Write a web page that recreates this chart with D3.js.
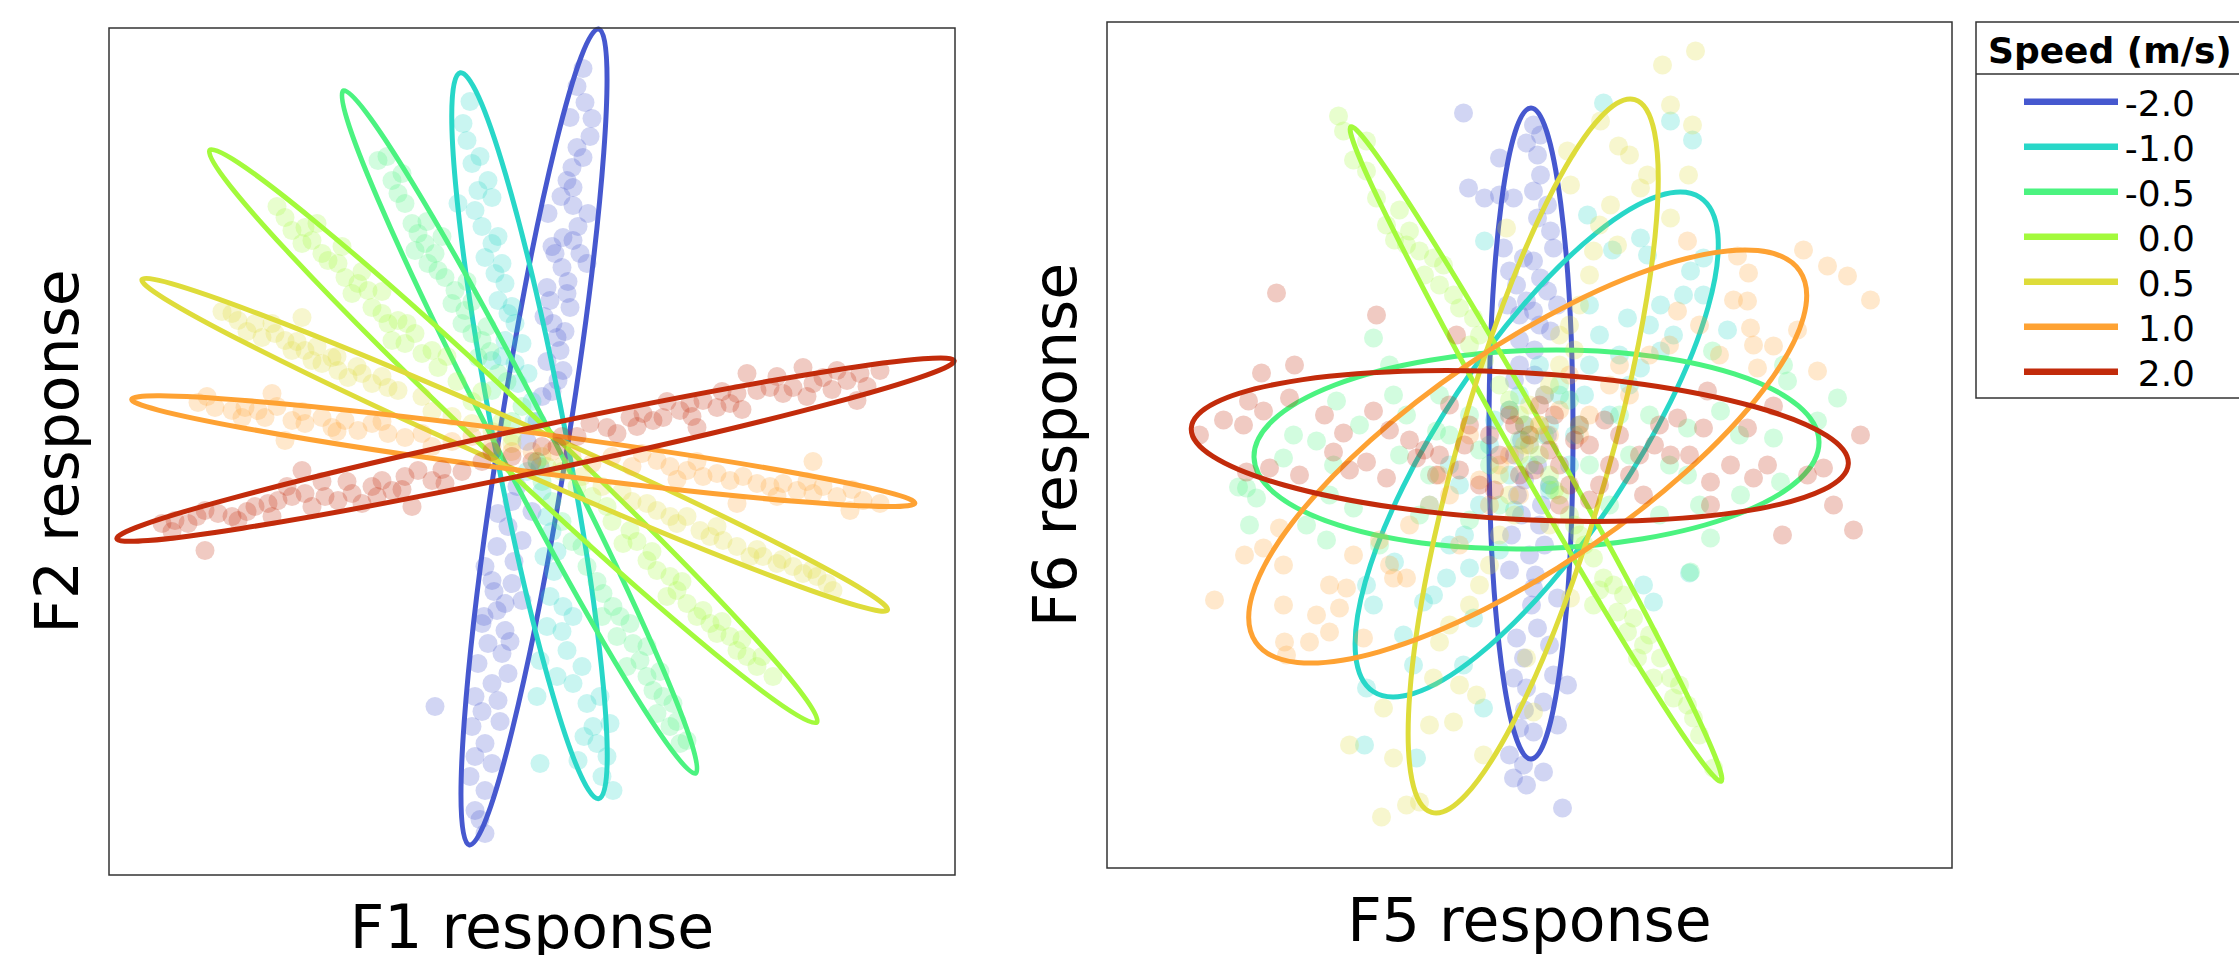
<!DOCTYPE html>
<html>
<head>
<meta charset="utf-8">
<script src="https://cdn.jsdelivr.net/npm/d3@7"></script>
<style>
  body { margin: 0; background: #fff; }
  svg text { font-family: "DejaVu Sans", sans-serif; fill: #000; }
</style>
</head>
<body>
<svg id="chart" width="2239" height="955"></svg>
<script>
// Speed categories and their colours (turbo-like)
const speeds = [-2.0, -1.0, -0.5, 0.0, 0.5, 1.0, 2.0];
const speedLabels = ['-2.0', '-1.0', '-0.5', '0.0', '0.5', '1.0', '2.0'];
const speedColors = ['#4658cf', '#28d7c8', '#4bf380', '#a3fa3c', '#dedc3a', '#fea233', '#c22b0b'];

// Ellipses per speed: [centreX, centreY, semiMajor, semiMinor, angleDeg]
const f1f2Ellipses = [
    [0.2, 1.45, 41.3, 3.45, 81.0],
    [-0.25, 1.58, 36.95, 3.6, 100.8],
    [-1.25, 1.95, 38.4, 2.7, 117.3],
    [-1.87, 1.53, 41.7, 2.85, 136.7],
    [-1.73, 0.67, 40.77, 2.25, 156.1],
    [-0.87, 0.03, 39.5, 1.95, 172.45],
    [0.35, 0.18, 42.8, 2.25, 12.0],
];
const f5f6Ellipses = [
    [0.15, 1.15, 32.55, 4.2, 90.0],
    [0.72, 0.05, 29.62, 9.48, 56.5],
    [0.7, -0.45, 28.26, 9.92, 1.6],
    [0.65, -0.9, 37.6, 1.95, 119.5],
    [0.37, -1.1, 37.06, 7.59, 74.1],
    [-0.18, -1.15, 32.93, 10.97, 34.3],
    [-0.97, -0.1, 32.9, 7.34, -3.1],
];

// Scatter samples per speed, F1 vs F2
const f1f2Points = [
    [[5.1,38.3],[5.3,34.9],[3.8,33.4],[6.0,33.3],[4.5,30.4],[5.1,29.4],[4.0,28.4],[3.5,27.1],[4.1,26.4],[1.6,23.8],[4.1,24.6],[5.6,23.8],[3.1,21.4],[4.1,21.1],[2.3,19.8],[4.8,19.8],[3.0,18.4],[5.5,18.8],[1.5,16.4],[3.5,15.8],[3.8,14.4],[1.8,15.1],[2.5,11.4],[2.8,10.1],[3.1,8.1],[2.6,7.1],[2.1,12.8],[1.0,5.5],[0.5,3.0],[-0.5,1.0],[0.8,-1.5],[-3.4,-6.2],[-2.4,-7.5],[-1.0,-8.9],[-4.7,-11.5],[-4.0,-12.9],[-2.0,-13.2],[-2.7,-15.2],[-1.0,-14.9],[-5.0,-17.2],[-3.5,-15.9],[-2.7,-17.9],[-4.4,-19.2],[-3.0,-20.2],[-5.4,-21.2],[-4.0,-23.2],[-2.4,-22.2],[-5.7,-24.5],[-3.4,-24.9],[-6.0,-27.5],[-4.7,-29.2],[-4.0,-31.2],[-5.7,-30.5],[-4.7,-33.9],[-5.7,-35.9],[-4.7,-38.2],[-9.7,-25.5],
     [4.5,36.5],[5.8,31.5],[2.9,25.5],[4.6,22.5],[2.0,20.5],[3.6,17.0],[1.2,13.5],[3.3,12.0],[1.5,9.0],[2.0,6.0],[-1.5,-3.5],[-2.0,-5.0],[0.0,-6.0],[-3.5,-9.5],[-1.8,-11.0],[-3.8,-14.0],[-4.8,-16.5],[-2.2,-19.0],[-5.0,-26.0],[-3.2,-27.0],[-6.2,-32.5],[-5.2,-36.8]],
    [[-6.9,32.8],[-6.5,31.1],[-6.0,28.8],[-7.4,24.8],[-5.4,26.1],[-4.4,27.1],[-5.7,24.1],[-4.0,25.4],[-4.0,20.8],[-4.7,19.4],[-3.0,18.8],[-3.7,17.8],[-2.7,16.8],[-3.4,15.1],[-2.4,13.8],[-1.7,12.8],[-2.7,11.1],[-1.0,10.8],[-1.7,8.8],[-4.0,9.1],[-0.4,7.8],[-1.4,6.8],[0.2,3.0],[1.0,-4.0],[-0.5,-2.0],[2.0,-8.0],[1.2,-10.5],[1.8,-14.5],[3.1,-15.5],[4.1,-16.5],[0.8,-20.9],[3.5,-19.9],[4.1,-23.2],[0.5,-24.5],[5.5,-25.2],[6.1,-27.5],[7.8,-27.2],[6.5,-29.2],[4.6,-30.9],[0.8,-31.2],[7.5,-30.5],[8.1,-33.9],
     [-6.2,35.0],[-5.2,29.5],[-5.0,22.5],[-3.4,21.5],[-2.0,14.5],[-3.0,9.5],[0.0,5.0],[0.5,-1.0],[1.5,-6.5],[2.5,-10.0],[2.2,-12.0],[3.0,-18.0],[1.5,-17.5],[5.0,-21.5],[2.5,-22.5],[6.8,-24.5],[5.2,-28.5],[7.0,-32.5]],
    [[-15.4,29.1],[-14.0,27.1],[-13.4,25.8],[-12.7,24.8],[-12.0,22.8],[-11.4,21.8],[-10.7,20.8],[-11.7,20.1],[-9.7,19.8],[-10.4,18.8],[-9.4,18.1],[-8.7,17.4],[-7.7,16.1],[-8.0,14.8],[-6.7,14.1],[-7.0,12.8],[-6.0,11.8],[-5.0,11.1],[-5.4,9.4],[-3.4,7.8],[-4.0,6.1],[-2.0,3.0],[2.0,-5.0],[4.0,-9.0],[5.5,-11.5],[7.1,-14.2],[8.1,-15.5],[8.8,-16.5],[9.8,-17.2],[8.5,-18.5],[10.1,-19.2],[10.8,-20.9],[9.5,-21.5],[11.5,-22.5],[12.1,-23.9],[13.1,-24.5],[12.5,-26.2],[14.1,-25.2],[13.8,-27.5],[14.8,-29.2],[15.5,-28.9],
     [-14.5,29.5],[-13.0,27.8],[-10.5,23.0],[-9.0,21.5],[-6.5,17.0],[-6.0,15.0],[-4.5,12.5],[-4.2,10.0],[-2.5,7.0],[-1.0,4.5],[0.5,-1.0],[1.0,-3.0],[3.0,-7.0],[5.0,-9.5],[6.5,-13.0],[7.0,-16.5],[11.5,-19.5],[12.8,-22.0],[14.5,-27.0]],
    [[-24.7,23.4],[-24.0,22.1],[-22.7,22.4],[-23.0,20.8],[-22.0,21.1],[-21.0,19.8],[-20.4,19.1],[-19.4,18.8],[-18.7,17.4],[-17.4,16.8],[-18.0,15.8],[-16.4,16.1],[-16.0,14.4],[-15.0,13.8],[-14.4,12.8],[-13.4,13.1],[-14.0,11.1],[-12.7,10.8],[-11.7,11.8],[-11.0,9.8],[-10.0,10.1],[-9.4,8.4],[-6.0,5.0],[-3.0,3.0],[3.0,-2.0],[6.0,-4.5],[9.8,-7.9],[9.1,-9.2],[11.5,-10.9],[12.5,-11.9],[13.8,-12.5],[13.5,-14.5],[14.5,-13.9],[15.5,-15.2],[16.5,-16.5],[17.1,-15.9],[17.8,-17.2],[18.5,-18.2],[19.8,-18.5],[20.5,-19.9],[21.5,-20.5],[22.5,-21.5],[24.1,-22.5],
     [-25.5,24.5],[-21.5,22.8],[-19.0,20.5],[-17.0,18.0],[-15.0,16.0],[-12.5,12.8],[-8.5,9.5],[-7.5,7.0],[-5.0,6.0],[-2.0,1.5],[1.5,-1.5],[4.5,-3.5],[7.5,-5.5],[8.0,-7.0],[10.5,-9.0],[12.0,-10.0],[15.0,-13.0],[19.0,-17.0],[21.0,-18.8],[23.0,-20.5]],
    [[-30.0,13.8],[-29.4,13.1],[-27.7,12.8],[-27.0,11.4],[-25.7,11.8],[-24.7,11.1],[-24.0,10.1],[-22.7,10.1],[-23.0,13.4],[-22.0,9.1],[-21.0,8.8],[-20.0,9.4],[-19.4,8.1],[-18.4,7.4],[-17.0,7.8],[-16.0,6.8],[-14.4,6.4],[-13.4,6.1],[-8.0,3.5],[-4.0,2.0],[3.0,-1.5],[7.0,-3.5],[11.5,-5.2],[12.5,-5.9],[13.8,-6.5],[14.5,-7.2],[16.8,-7.9],[17.8,-8.5],[19.1,-8.9],[20.5,-9.5],[21.8,-10.5],[23.1,-10.5],[24.5,-11.2],[26.1,-11.5],[27.1,-12.2],[28.5,-12.5],[29.5,-13.2],[30.1,-13.9],
     [-31.0,14.0],[-28.5,12.0],[-26.0,12.8],[-23.5,11.0],[-21.5,10.5],[-19.5,9.5],[-17.5,8.5],[-15.0,7.5],[-11.0,5.5],[-10.0,4.0],[-6.0,2.8],[-2.0,0.8],[1.0,-0.5],[5.0,-2.5],[9.0,-4.0],[10.0,-5.0],[15.5,-6.5],[18.5,-7.5],[22.5,-9.8],[25.0,-10.8],[28.0,-11.8]],
    [[-33.4,4.9],[-31.7,4.4],[-30.0,4.1],[-28.7,4.4],[-27.4,4.1],[-26.7,3.4],[-24.0,3.1],[-22.7,2.8],[-21.0,3.4],[-20.0,2.4],[-18.7,3.1],[-17.4,2.1],[-16.0,2.8],[-14.4,1.8],[-12.7,1.4],[-26.0,5.8],[-24.7,1.1],[-8.0,1.0],[-4.0,0.5],[0.0,0.0],[4.0,-0.5],[8.0,-0.5],[12.5,-0.9],[13.8,-1.5],[15.5,-1.9],[17.1,-2.5],[18.5,-2.2],[19.8,-2.9],[21.1,-2.5],[22.5,-3.2],[23.8,-3.5],[25.1,-3.2],[26.5,-3.9],[28.1,-4.2],[29.1,-3.5],[31.8,-5.9],[33.1,-4.9],[34.8,-5.2],[28.1,-1.0],[20.5,-5.2],
     [-32.5,5.5],[-29.0,3.4],[-25.5,4.5],[-23.0,4.0],[-19.5,2.0],[-15.0,3.0],[-11.0,1.8],[-10.0,0.5],[-6.0,1.5],[-2.0,0.0],[2.0,0.0],[6.0,-1.2],[10.0,-1.5],[11.0,-0.2],[14.5,-2.8],[16.5,-1.0],[24.5,-4.5],[27.5,-3.0],[30.5,-4.5],[32.0,-3.8]],
    [[5.8,2.8],[7.5,2.4],[9.8,3.4],[11.1,3.8],[12.1,3.1],[13.1,3.4],[14.8,4.1],[15.8,4.8],[17.1,5.1],[18.5,4.4],[19.8,4.8],[20.5,5.8],[21.5,7.8],[22.5,6.1],[23.8,6.4],[25.1,5.8],[26.1,6.4],[27.1,8.4],[28.1,6.8],[29.1,7.4],[30.5,8.1],[31.5,7.1],[32.5,5.1],[32.8,7.8],[34.8,8.1],[16.5,2.4],[-37.0,-7.2],[-35.7,-6.9],[-34.4,-7.2],[-32.7,-5.9],[-31.4,-6.2],[-30.0,-6.5],[-29.4,-6.9],[-27.7,-5.5],[-26.4,-5.2],[-25.4,-4.9],[-24.0,-4.5],[-22.7,-4.2],[-22.0,-5.5],[-20.7,-4.5],[-19.4,-4.9],[-18.0,-4.2],[-17.0,-5.2],[-16.0,-3.5],[-15.0,-2.9],[-14.0,-3.9],[-12.7,-2.5],[-11.4,-1.9],[-10.0,-2.9],[-8.7,-3.2],[-12.0,-5.5],[-32.7,-9.9],[-23.0,-1.9],[-5.0,-1.0],[-2.0,-0.5],[1.0,0.5],[3.0,1.5],
     [-36.0,-8.0],[-33.5,-6.5],[-28.5,-6.0],[-26.0,-6.5],[-24.5,-3.5],[-21.0,-3.0],[-18.5,-3.0],[-15.5,-4.5],[-13.0,-3.8],[-9.0,-1.8],[-7.0,-2.0],[-4.0,0.0],[0.0,-1.0],[2.5,0.5],[4.5,1.5],[8.5,1.8],[10.5,2.5],[13.5,5.0],[16.0,3.5],[19.0,6.0],[21.0,4.2],[24.5,7.5],[27.5,5.5],[30.0,6.2],[33.5,6.5]],
];

// Scatter samples per speed, F5 vs F6
const f5f6Points = [
    [[-6.6,33.2],[-3.0,28.7],[-0.3,30.2],[-6.1,25.7],[-4.5,24.7],[-3.0,25.0],[-1.6,24.7],[-2.6,19.7],[-2.0,17.4],[-0.6,18.7],[-1.3,16.0],[-0.3,14.4],[-1.0,13.0],[0.4,32.0],[1.1,31.0],[0.8,29.0],[1.1,27.0],[0.4,25.4],[1.8,24.0],[0.8,22.7],[2.1,21.4],[2.4,19.7],[0.4,18.4],[1.1,16.7],[1.8,15.4],[2.8,14.0],[0.4,13.4],[2.1,11.4],[-1.0,8.0],[1.5,5.0],[-0.5,2.0],[0.8,-2.0],[-1.2,-5.0],[1.0,-8.0],[0.0,-11.0],[-0.8,0.5],[-1.3,-19.3],[-0.6,-21.3],[-1.6,-23.3],[-0.3,-24.3],[-1.0,-28.3],[-2.0,-31.0],[-0.6,-32.0],[-1.6,-33.3],[-0.3,-34.0],[0.4,-14.3],[2.8,-15.3],[0.8,-18.3],[2.4,-23.0],[3.8,-24.0],[1.4,-25.7],[2.8,-28.0],[0.4,-28.7],[1.4,-32.7],[3.3,-36.3],[-1.5,6.5],[0.5,9.5],[-2.0,3.5],[1.8,1.0],[-0.5,-3.5],[1.2,-6.0],[-1.8,-9.0],[0.6,-13.0],
     [-1.0,10.5],[1.0,12.0],[-2.2,14.0],[0.5,7.0],[-1.5,-1.0],[2.0,-4.0],[-0.8,-7.0],[1.5,-10.0],[-2.0,-12.5],[0.2,-16.0],[2.0,-20.0],[-0.5,-26.5]],
    [[7.4,34.2],[14.1,32.4],[16.3,30.5],[5.8,23.0],[11.1,20.7],[11.8,19.0],[16.1,17.4],[17.4,18.7],[15.4,15.0],[17.4,15.0],[13.1,14.0],[19.8,11.5],[9.8,12.7],[14.4,11.0],[13.1,9.4],[11.1,7.7],[-4.5,20.4],[8.3,19.5],[16.0,-12.8],[-13.5,-11.7],[-9.6,-15.0],[-10.6,-15.7],[-8.3,-13.3],[-6.0,-12.3],[-15.6,-16.0],[-16.3,-14.0],[-12.6,-19.0],[-11.6,-22.0],[-6.6,-22.0],[-16.3,-24.3],[-4.6,-26.3],[-16.5,-30.0],[-11.3,-31.3],[-5.6,-17.3],[11.4,-14.0],[12.4,-15.7],[3.0,5.0],[-2.0,-3.0],[6.0,8.0],[-5.0,-6.0],[0.0,0.0],[8.0,3.0],[-8.0,-2.0],[-3.5,2.5],[4.5,1.0],[-1.0,5.0],[2.0,-4.5],[-6.5,-9.0],[7.0,11.0],[-10.0,-6.0],[10.0,6.0],
     [2.0,2.0],[-1.5,-6.5],[4.0,-2.0],[-4.0,0.0],[1.0,8.0],[5.5,5.0],[-7.0,-4.0],[9.0,9.0],[-3.0,-10.5],[12.0,12.0],[-8.0,-10.0],[6.0,14.0]],
    [[-15.6,10.7],[-14.0,8.0],[-13.6,5.0],[-19.3,4.4],[-23.6,1.0],[-21.3,0.4],[-12.3,3.0],[-9.3,1.4],[-28.3,-4.3],[-27.3,-5.3],[-28.0,-8.0],[-24.6,-1.3],[-22.3,-8.0],[-20.3,-9.5],[-19.6,-2.0],[-17.6,-6.3],[18.3,9.4],[25.4,8.0],[25.8,6.4],[30.8,4.7],[28.8,2.4],[24.4,0.7],[19.1,3.4],[15.8,1.7],[15.8,-3.0],[18.1,-9.3],[16.1,-12.7],[25.1,-3.7],[21.1,-5.0],[-29.1,-4.2],[-6.0,3.0],[0.0,-2.0],[5.0,2.0],[-10.0,-3.0],[10.0,-1.0],[-3.0,-6.0],[3.0,6.0],[8.0,-6.0],[-8.0,1.0],[-4.0,-2.0],[-2.0,3.5],[2.0,-4.0],[6.0,-2.0],[12.0,3.0],[-13.0,-1.0],[-17.0,2.0],[13.0,-7.0],[-6.0,-7.5],
     [-1.0,0.5],[1.5,1.0],[-5.0,-0.5],[4.0,4.5],[-9.0,5.0],[9.0,3.0],[-11.0,-7.0],[14.0,-2.0],[-20.0,-5.0],[21.0,1.0],[-15.0,-10.0],[17.0,-6.0]],
    [[-19.1,32.9],[-18.6,31.4],[-17.6,28.5],[-16.3,30.4],[-16.3,27.4],[-15.3,24.7],[-14.3,22.0],[-13.0,23.5],[-12.0,21.4],[-12.3,20.0],[-11.0,19.4],[-9.6,18.7],[-8.6,18.0],[-9.0,16.0],[-7.6,15.0],[-7.0,13.7],[-5.6,12.7],[-3.0,6.0],[0.0,1.0],[2.0,-3.0],[4.0,-7.0],[-1.0,3.0],[1.0,-1.0],[6.4,-11.3],[7.4,-13.3],[8.4,-14.0],[9.4,-15.0],[6.4,-16.0],[8.8,-16.7],[10.4,-17.3],[9.8,-18.7],[11.4,-20.0],[10.8,-21.3],[13.1,-21.3],[12.4,-23.3],[14.1,-23.3],[14.4,-25.3],[15.8,-26.0],[16.4,-27.3],[18.4,-32.3],[-4.5,8.5],[-2.0,4.5],[3.0,-5.0],[5.0,-9.0],[-6.0,10.0],
     [-5.0,11.0],[-10.5,17.0],[-13.5,20.5],[-0.5,2.0],[2.5,-4.5],[4.5,-8.0],[5.5,-10.0],[7.0,-14.5],[12.0,-19.0],[15.0,-24.0],[17.0,-29.0]],
    [[16.6,39.4],[13.3,38.0],[14.1,34.0],[16.3,32.0],[8.9,29.9],[7.1,32.4],[3.8,29.4],[4.1,26.0],[15.9,27.0],[11.8,27.0],[11.1,25.7],[14.1,22.7],[8.1,24.0],[8.8,20.0],[6.4,19.4],[-2.3,21.7],[-9.0,-19.7],[-7.0,-24.0],[-5.3,-25.0],[-14.6,-26.3],[-7.6,-27.7],[-4.6,-31.0],[-13.6,-31.3],[-18.0,-30.0],[-12.3,-36.0],[-14.8,-37.2],[-11.0,-35.7],[-9.6,-23.3],[-0.3,-21.3],[0.4,-26.7],[4.1,-15.3],[3.0,8.0],[-2.0,-5.0],[1.0,2.0],[5.0,14.0],[-4.0,-12.0],[2.0,-8.0],[0.0,4.0],[-1.0,-1.0],[3.0,11.0],[-3.0,-9.0],[-6.0,-16.0],[6.0,17.0],
     [2.0,6.0],[-0.5,0.0],[1.5,5.0],[4.0,12.0],[-5.0,-14.0],[-8.0,-18.0],[7.0,22.0],[10.0,29.0],[-3.0,-3.0],[-1.5,-7.0],[4.5,9.5],[-10.0,-28.0]],
    [[15.8,20.4],[20.8,18.9],[21.9,17.2],[20.4,14.5],[21.8,14.4],[22.1,11.7],[22.4,10.0],[24.4,9.9],[26.8,11.5],[22.8,7.7],[27.4,19.5],[29.8,17.9],[31.8,16.9],[34.1,14.5],[28.8,7.4],[14.8,13.4],[-31.5,-15.5],[-28.5,-11.0],[-26.6,-10.3],[-24.6,-12.0],[-24.6,-16.0],[-24.5,-19.7],[-24.3,-21.0],[-22.0,-19.7],[-21.3,-17.0],[-20.0,-18.7],[-19.0,-16.3],[-17.6,-11.0],[-18.3,-14.3],[-13.6,-13.3],[-12.3,-13.3],[-25.0,-8.3],[-16.6,-19.3],[-8.0,-5.0],[-3.0,-2.0],[2.0,1.0],[6.0,3.0],[10.0,5.0],[-12.0,-8.0],[0.0,0.0],[4.0,7.0],[-5.0,-3.5],[-10.0,-6.0],[3.0,3.5],[8.0,6.0],[-15.0,-9.5],[12.0,9.0],[-6.0,1.0],[-1.0,-5.0],
     [-2.0,-1.0],[1.0,2.0],[5.0,1.0],[-4.0,-6.0],[-9.0,-3.0],[9.0,8.0],[14.0,10.0],[-14.0,-12.0],[17.0,12.0],[-20.0,-14.0],[19.0,9.0],[-7.0,-10.0]],
    [[-25.3,15.2],[-15.3,13.0],[-7.3,11.0],[-23.5,8.0],[-26.8,7.2],[-28.1,4.4],[-26.6,3.4],[-30.6,2.5],[-33.0,1.0],[-28.6,2.0],[-15.6,3.4],[-18.6,1.2],[-24.0,4.7],[-28.3,-2.7],[-26.0,-2.3],[-23.0,-3.0],[-19.6,-0.7],[-16.3,-1.7],[-14.3,-3.3],[-11.3,-1.3],[-9.3,-3.0],[17.8,5.4],[24.4,3.9],[21.8,1.7],[17.4,1.7],[33.1,1.0],[14.8,2.7],[18.1,-3.7],[20.1,-2.0],[22.4,-3.3],[23.8,-2.0],[27.8,-3.0],[29.4,-2.3],[30.4,-6.0],[32.4,-8.5],[25.3,-9.0],[18.1,-6.0],[14.1,-1.0],[11.4,-5.0],[-6.0,2.0],[-3.0,-1.0],[0.0,1.0],[3.0,-2.0],[6.0,0.0],[9.0,1.0],[-9.0,-1.0],[1.0,4.0],[4.0,-4.0],[-1.0,-3.0],[7.0,-4.0],[-12.0,0.5],[-7.0,-2.5],[-4.0,1.0],[-2.0,3.0],[2.0,-0.5],[5.0,2.0],[8.0,-2.0],[11.0,-1.0],[-5.0,-4.0],[3.0,-6.0],[-8.0,4.0],[13.0,2.0],
     [-10.5,-0.5],[-6.5,0.0],[-1.5,2.0],[0.5,-2.5],[4.5,0.5],[7.5,2.5],[10.0,-3.0],[12.5,0.0],[16.0,-1.0],[-14.0,1.5],[-18.0,-2.5],[-20.5,3.0],[2.5,3.0],[-3.5,-4.5],[6.0,-5.5]],
];

const svg = d3.select('#chart');

const panels = [
    { ellipses: f1f2Ellipses, points: f1f2Points, xLabel: 'F1 response', yLabel: 'F2 response',
      xDomain: [-42.3, 42.3], yDomain: [-42.35, 42.35], left: 109, right: 955, top: 28, bottom: 875 },
    { ellipses: f5f6Ellipses, points: f5f6Points, xLabel: 'F5 response', yLabel: 'F6 response',
      xDomain: [-42.25, 42.25], yDomain: [-42.3, 42.3], left: 1107, right: 1952, top: 22, bottom: 868 },
];

function drawPanel(p) {
    const x = d3.scaleLinear().domain(p.xDomain).range([p.left, p.right]);
    const y = d3.scaleLinear().domain(p.yDomain).range([p.bottom, p.top]);
    const g = svg.append('g');

    // points then ellipse for each speed, in order
    speeds.forEach((s, i) => {
        g.append('g')
            .selectAll('circle')
            .data(p.points[i])
            .join('circle')
            .attr('cx', d => x(d[0]))
            .attr('cy', d => y(d[1]))
            .attr('r', 9.5)
            .attr('fill', speedColors[i])
            .attr('fill-opacity', 0.25);

        const e = p.ellipses[i];
        g.append('ellipse')
            .attr('rx', Math.abs(x(e[2]) - x(0)))
            .attr('ry', Math.abs(y(e[3]) - y(0)))
            .attr('transform', `translate(${x(e[0])},${y(e[1])}) rotate(${-e[4]})`)
            .attr('fill', 'none')
            .attr('stroke', speedColors[i])
            .attr('stroke-width', 5);
    });

    // frame
    g.append('rect')
        .attr('x', p.left).attr('y', p.top)
        .attr('width', p.right - p.left).attr('height', p.bottom - p.top)
        .attr('fill', 'none').attr('stroke', '#333').attr('stroke-width', 1.5);

    // axis labels
    g.append('text')
        .attr('x', (p.left + p.right) / 2).attr('y', p.bottom + 73)
        .attr('text-anchor', 'middle').attr('font-size', 60)
        .text(p.xLabel);

    g.append('text')
        .attr('transform', `translate(${p.left - 31},${(p.top + p.bottom) / 2}) rotate(-90)`)
        .attr('text-anchor', 'middle').attr('font-size', 60)
        .text(p.yLabel);
}

panels.forEach(drawPanel);

// Legend
const legend = svg.append('g');
legend.append('rect')
    .attr('x', 1976).attr('y', 22).attr('width', 280).attr('height', 376)
    .attr('fill', '#fff').attr('stroke', '#333').attr('stroke-width', 1.5);
legend.append('line')
    .attr('x1', 1976).attr('x2', 2256).attr('y1', 74).attr('y2', 74)
    .attr('stroke', '#333').attr('stroke-width', 1.5);
legend.append('text')
    .attr('x', 1988).attr('y', 63)
    .attr('font-size', 36).attr('font-weight', 'bold')
    .text('Speed (m/s)');

const rowY = d3.scalePoint().domain(speedLabels).range([101.7, 371.7]);

legend.selectAll('line.key')
    .data(speedLabels)
    .join('line')
    .attr('class', 'key')
    .attr('x1', 2024).attr('x2', 2118)
    .attr('y1', d => rowY(d)).attr('y2', d => rowY(d))
    .attr('stroke', (d, i) => speedColors[i])
    .attr('stroke-width', 6.5);

legend.selectAll('text.key')
    .data(speedLabels)
    .join('text')
    .attr('class', 'key')
    .attr('x', 2195)
    .attr('y', d => rowY(d) + 14)
    .attr('text-anchor', 'end')
    .attr('font-size', 36)
    .text(d => d);
</script>
</body>
</html>
